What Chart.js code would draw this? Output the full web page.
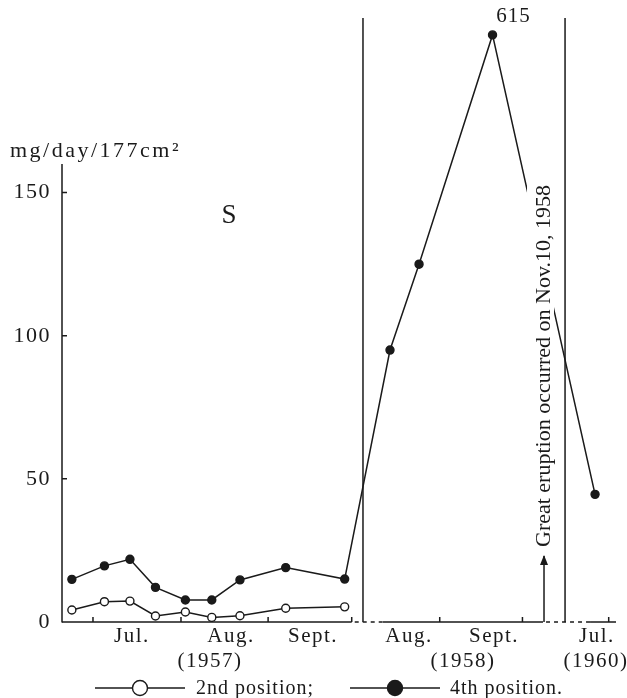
<!DOCTYPE html>
<html>
<head>
<meta charset="utf-8">
<title>mg/day/177cm²</title>
<script src="https://cdn.jsdelivr.net/npm/chart.js@4.4.1/dist/chart.umd.min.js"></script>
<style>
  html, body { margin: 0; padding: 0; background: #fff; }
</style>
</head>
<body>
<canvas id="chart" width="627" height="698"></canvas>
<script>
'use strict';

// sampling positions on the broken time axis, in months (0 = start of Jul. 1957)
const samplePos = [-0.24, 0.13, 0.42, 0.71, 1.05, 1.35, 1.67, 2.19, 2.86, 3.375, 3.705, 4.54, 5.705];

// mg/day/177cm2
const fourthPosition = [14.9, 19.6, 21.9, 12.1, 7.7, 7.7, 14.7, 19.0, 15.0, 95, 125, 615, 44.6];
const secondPosition = [4.2, 7.1, 7.3, 2.1, 3.5, 1.6, 2.2, 4.8, 5.3];

const monthLabels = ['Jul.', 'Aug.', 'Sept.', 'Aug.', 'Sept.', 'Jul.'];
const monthPos = [0.443, 1.568, 2.5, 3.59, 4.557, 5.727];
const yearLabels = ['(1957)', '(1958)', '(1960)'];
const yearPos = [1.33, 4.205, 5.716];
const monthTicks = [0, 1.0, 1.99, 2.94, 3.94, 4.88, 5.86];
const panelBreaks = [3.068, 5.364];
const axisGaps = [[2.94, 3.295], [5.114, 5.648]];
const eruptionPos = 5.125;
const yTickValues = [0, 50, 100, 150];

const X_MIN = -0.352;
const X_MAX = 5.943;
const INK = '#1a1a1a';
const SERIF = "'Liberation Serif', 'Times New Roman', serif";

// y axis is broken above 190 so the 615 peak still fits on the page
const BREAK_AT = 190;
const SQUEEZE = 0.0355;
const squash = v => v <= BREAK_AT ? v : BREAK_AT + (v - BREAK_AT) * SQUEEZE;
const unsquash = v => v <= BREAK_AT ? v : BREAK_AT + (v - BREAK_AT) / SQUEEZE;

class BrokenScale extends Chart.LinearScale {
    getPixelForValue(value) {
        return super.getPixelForValue(squash(value));
    }
    getValueForPixel(pixel) {
        return unsquash(super.getValueForPixel(pixel));
    }
}
BrokenScale.id = 'broken';
BrokenScale.defaults = Chart.LinearScale.defaults;
Chart.register(BrokenScale);

function fixedTicks(values) {
    return scale => { scale.ticks = values.map(value => ({ value })); };
}

function legendIcon(ctx, cx, cy, filled) {
    ctx.beginPath();
    ctx.moveTo(cx - 45, cy);
    ctx.lineTo(cx + 45, cy);
    ctx.stroke();
    ctx.beginPath();
    ctx.arc(cx, cy, 7.5, 0, Math.PI * 2);
    ctx.fillStyle = filled ? INK : '#fff';
    ctx.fill();
    ctx.stroke();
}

const decorations = {
    id: 'decorations',
    beforeUpdate(chart) {
        chart.ctx.letterSpacing = '1.5px';
    },
    beforeDatasetsDraw(chart) {
        const { ctx, chartArea: area, scales: { x, y } } = chart;
        const base = y.getPixelForValue(0);
        ctx.save();
        ctx.strokeStyle = INK;
        ctx.lineWidth = 1.5;

        // y axis with inward ticks
        ctx.beginPath();
        ctx.moveTo(area.left, y.getPixelForValue(160));
        ctx.lineTo(area.left, base + 0.5);
        yTickValues.slice(1).forEach(v => {
            const py = y.getPixelForValue(v);
            ctx.moveTo(area.left, py);
            ctx.lineTo(area.left + 5, py);
        });
        ctx.stroke();

        // time axis: solid inside each panel, dashed across the gaps
        const solid = [[X_MIN, axisGaps[0][0]], [axisGaps[0][1], axisGaps[1][0]], [axisGaps[1][1], X_MAX]];
        ctx.beginPath();
        solid.forEach(([a, b]) => {
            ctx.moveTo(x.getPixelForValue(a), base);
            ctx.lineTo(x.getPixelForValue(b), base);
        });
        monthTicks.forEach(m => {
            const px = x.getPixelForValue(m);
            ctx.moveTo(px, base);
            ctx.lineTo(px, base - 5);
        });
        ctx.stroke();
        ctx.setLineDash([4, 4]);
        ctx.beginPath();
        axisGaps.forEach(([a, b]) => {
            ctx.moveTo(x.getPixelForValue(a) + 3, base);
            ctx.lineTo(x.getPixelForValue(b), base);
        });
        ctx.stroke();
        ctx.setLineDash([]);

        // panel separators
        ctx.beginPath();
        panelBreaks.forEach(p => {
            const px = x.getPixelForValue(p);
            ctx.moveTo(px, area.top);
            ctx.lineTo(px, base);
        });
        ctx.stroke();

        // eruption arrow
        const ax = x.getPixelForValue(eruptionPos);
        const tip = base - 67;
        ctx.beginPath();
        ctx.moveTo(ax, base);
        ctx.lineTo(ax, tip + 1);
        ctx.stroke();
        ctx.beginPath();
        ctx.moveTo(ax, tip);
        ctx.lineTo(ax - 4, tip + 10);
        ctx.lineTo(ax + 4, tip + 10);
        ctx.closePath();
        ctx.fillStyle = INK;
        ctx.fill();
        ctx.restore();
    },
    afterDatasetsDraw(chart) {
        const { ctx, scales: { x, y } } = chart;
        const base = y.getPixelForValue(0);
        ctx.save();
        ctx.fillStyle = INK;
        ctx.strokeStyle = INK;

        // vertical note on a white strip, breaking the falling line
        const note = 'Great eruption occurred on Nov.10, 1958';
        const ax = x.getPixelForValue(eruptionPos);
        ctx.letterSpacing = '0px';
        ctx.font = '22px ' + SERIF;
        const w = ctx.measureText(note).width;
        ctx.save();
        ctx.translate(ax, base - 75);
        ctx.rotate(-Math.PI / 2);
        ctx.fillStyle = '#fff';
        ctx.fillRect(-2, -17, w + 4, 27);
        ctx.fillStyle = INK;
        ctx.textAlign = 'left';
        ctx.textBaseline = 'middle';
        ctx.fillText(note, 0, 0);
        ctx.restore();

        // value of the peak
        const peak = chart.getDatasetMeta(1).data[fourthPosition.indexOf(615)];
        ctx.letterSpacing = '1px';
        ctx.font = '21px ' + SERIF;
        ctx.textAlign = 'center';
        ctx.textBaseline = 'middle';
        ctx.fillText('615', peak.x + 21, peak.y - 18);

        // site letter
        ctx.font = '27px ' + SERIF;
        ctx.fillText('S', x.getPixelForValue(1.55), y.getPixelForValue(142));

        // unit
        ctx.letterSpacing = '2.5px';
        ctx.font = '22px ' + SERIF;
        ctx.textAlign = 'left';
        ctx.textBaseline = 'alphabetic';
        ctx.fillText('mg/day/177cm²', 10, 157);

        // legend
        ctx.letterSpacing = '1px';
        ctx.lineWidth = 1.4;
        ctx.font = '20px ' + SERIF;
        ctx.textBaseline = 'middle';
        const ly = 688;
        legendIcon(ctx, 140, ly, false);
        ctx.fillStyle = INK;
        ctx.fillText(chart.data.datasets[0].label, 196, ly + 1);
        legendIcon(ctx, 395, ly, true);
        ctx.fillStyle = INK;
        ctx.fillText(chart.data.datasets[1].label, 450, ly + 1);
        ctx.restore();
    }
};

const lineStyle = {
    borderColor: INK,
    borderWidth: 1.5,
    pointBorderColor: INK,
    pointBorderWidth: 1.4,
    tension: 0
};

const timeAxis = (labels, positions, height, padding, weight) => ({
    type: 'linear',
    position: 'bottom',
    weight: weight,
    min: X_MIN,
    max: X_MAX,
    bounds: 'data',
    grid: { display: false, drawTicks: false },
    border: { display: false },
    ticks: {
        color: INK,
        font: { family: SERIF, size: 21 },
        padding: padding,
        autoSkip: false,
        maxRotation: 0,
        callback: (v, i) => labels[i]
    },
    afterBuildTicks: fixedTicks(positions),
    afterFit: scale => {
        scale.height = height;
        scale.paddingLeft = 0;
        scale.paddingRight = 0;
    }
});

new Chart(document.getElementById('chart'), {
    type: 'line',
    data: {
        datasets: [{
            ...lineStyle,
            label: '2nd position;',
            data: secondPosition.map((v, i) => ({ x: samplePos[i], y: v })),
            pointRadius: 4,
            pointBackgroundColor: '#fff'
        }, {
            ...lineStyle,
            label: '4th position.',
            data: fourthPosition.map((v, i) => ({ x: samplePos[i], y: v })),
            pointRadius: 4,
            pointBackgroundColor: INK
        }]
    },
    options: {
        responsive: false,
        animation: false,
        layout: { padding: { top: 18, right: 11, bottom: 26, left: 0 } },
        plugins: {
            legend: { display: false },
            tooltip: { enabled: false }
        },
        scales: {
            x: timeAxis(monthLabels, monthPos, 26, 2, 0),
            x2: timeAxis(yearLabels, yearPos, 24, 1, 1),
            y: {
                type: 'broken',
                min: 0,
                max: 211,
                bounds: 'data',
                grid: { display: false, drawTicks: false },
                border: { display: false },
                ticks: {
                    color: INK,
                    font: { family: SERIF, size: 22 },
                    padding: 11
                },
                afterBuildTicks: fixedTicks(yTickValues),
                afterFit: scale => {
                    scale.width = 62;
                    scale.paddingTop = 0;
                    scale.paddingBottom = 0;
                }
            }
        }
    },
    plugins: [decorations]
});
</script>
</body>
</html>
